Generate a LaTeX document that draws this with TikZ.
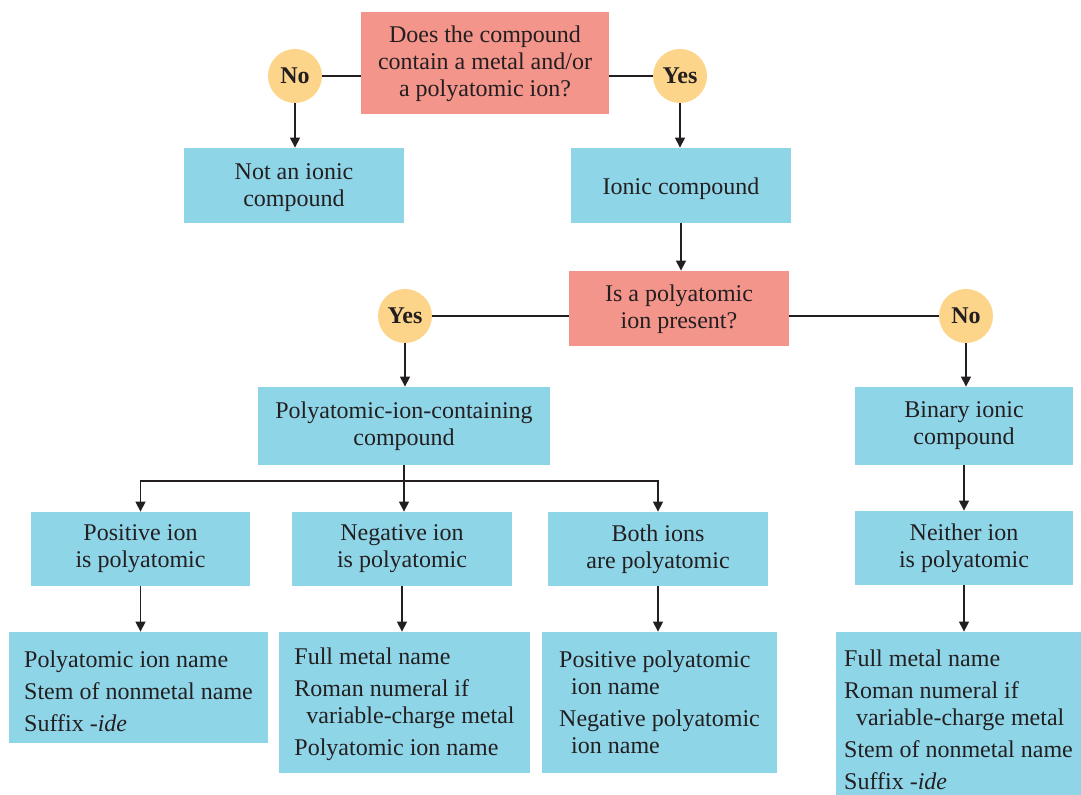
\documentclass[tikz,border=0pt]{standalone}
\usepackage{fontspec}
\setmainfont{Liberation Serif}
\usetikzlibrary{arrows.meta}
\definecolor{qpink}{HTML}{F4958C}
\definecolor{boxblue}{HTML}{8FD5E8}
\definecolor{ansgold}{HTML}{FDD58A}
\definecolor{ink}{HTML}{231F20}
\newcommand{\chartfont}{\fontsize{12}{13.5}\selectfont}
\newcommand{\cont}{\hspace*{0.5em}}
\newcommand{\drop}[1]{\rule{0pt}{#1}}
\tikzset{
  question/.style={rectangle, fill=qpink, inner sep=0pt, align=center, text=ink, font=\chartfont},
  stage/.style={rectangle, fill=boxblue, inner sep=0pt, minimum width=110pt, minimum height=37.5pt, align=center, text=ink, font=\chartfont, execute at begin node=\drop{10pt}},
  answer/.style={circle, fill=ansgold, minimum size=27pt, inner sep=0pt, text=ink, font=\chartfont\bfseries},
  result/.style={rectangle, fill=boxblue, inner sep=0pt, align=left, text=ink, font=\chartfont},
  flow/.style={-{Triangle[width=5pt,length=5pt]}, line width=0.7pt, draw=ink},
  link/.style={line width=0.7pt, draw=ink},
}

\begin{document}
\begin{tikzpicture}[x=0.5pt, y=-0.5pt]
  \useasboundingbox (0,0) rectangle (1081,795);

  % First question: metal or polyatomic ion
  \node[question, minimum width=124pt, minimum height=51pt] (metalq) at (485,63)
    {\drop{9.5pt}Does the compound\\contain a metal and/or\\a polyatomic ion?};
  \node[answer] (no1) at (295,76) {No};
  \node[answer] (yes1) at (680,76) {Yes};
  \node[stage] (notionic) at (294,185.5) {\drop{10.5pt}Not an ionic\\compound};
  \node[stage] (ionic) at (681,185.5) {\drop{12pt}Ionic compound};

  \draw[link] (no1) -- (metalq.west |- no1);
  \draw[link] (metalq.east |- yes1) -- (yes1);
  \draw[flow] (no1.south) -- (no1.south |- notionic.north);
  \draw[flow] (yes1.south) -- (yes1.south |- ionic.north);

  % Second question: polyatomic ion present
  \node[question, minimum width=110pt, minimum height=37.5pt] (polyq) at (679,308.5)
    {\drop{9.5pt}Is a polyatomic\\ion present?};
  \node[answer] (yes2) at (405,316) {Yes};
  \node[answer] (no2) at (966,316) {No};
  \node[stage, minimum width=146pt, minimum height=39pt] (polyc) at (404,426)
    {Polyatomic-ion-containing\\compound};
  \node[stage, minimum width=109pt, minimum height=39pt] (binary) at (964,426)
    {Binary ionic\\compound};

  \draw[flow] (ionic.south) -- (ionic.south |- polyq.north);
  \draw[link] (yes2) -- (polyq.west |- yes2);
  \draw[link] (polyq.east |- no2) -- (no2);
  \draw[flow] (yes2.south) -- (yes2.south |- polyc.north);
  \draw[flow] (no2.south) -- (no2.south |- binary.north);

  % Which ions are polyatomic
  \node[stage, minimum width=109.5pt, minimum height=37pt] (posion) at (140.5,549) {Positive ion\\is polyatomic};
  \node[stage, minimum height=37pt] (negion) at (402,549) {Negative ion\\is polyatomic};
  \node[stage, minimum height=37pt] (bothion) at (658,549) {Both ions\\are polyatomic};
  \node[stage, minimum width=109pt, minimum height=37pt] (neitherion) at (964,548) {Neither ion\\is polyatomic};

  \coordinate (split) at (404,481);
  \draw[link] (polyc.south) -- (split);
  \draw[flow] (split) -| (posion.north);
  \draw[flow] (split) -- (split |- negion.north);
  \draw[flow] (split) -| (bothion.north);
  \draw[flow] (binary.south) -- (binary.south |- neitherion.north);

  % Name parts
  \node[result, minimum width=129.5pt, minimum height=55.5pt] (name1) at (138.5,687.5)
    {\drop{12.5pt}Polyatomic ion name\\[2.5pt]Stem of nonmetal name\\[2.5pt]Suffix \textit{-ide}};
  \node[result, minimum width=125.5pt, minimum height=70.5pt] (name2) at (404.5,702.5)
    {\drop{10.5pt}Full metal name\\[2.5pt]Roman numeral if\\\cont variable-charge metal\\[2.5pt]Polyatomic ion name};
  \node[result, minimum width=117.5pt, minimum height=70.5pt] (name3) at (659.5,702.5)
    {Positive polyatomic\\\cont ion name\\[2.5pt]Negative polyatomic\\\cont ion name};
  \node[result, minimum width=122.5pt, minimum height=81.5pt] (name4) at (958.5,713.5)
    {\drop{14.5pt}Full metal name\\[2.5pt]Roman numeral if\\\cont variable-charge metal\\[2.5pt]Stem of nonmetal name\\[2.5pt]Suffix \textit{-ide}};

  \draw[flow] (posion.south) -- (posion.south |- name1.north);
  \draw[flow] (negion.south) -- (negion.south |- name2.north);
  \draw[flow] (bothion.south) -- (bothion.south |- name3.north);
  \draw[flow] (neitherion.south) -- (neitherion.south |- name4.north);
\end{tikzpicture}
\end{document}
